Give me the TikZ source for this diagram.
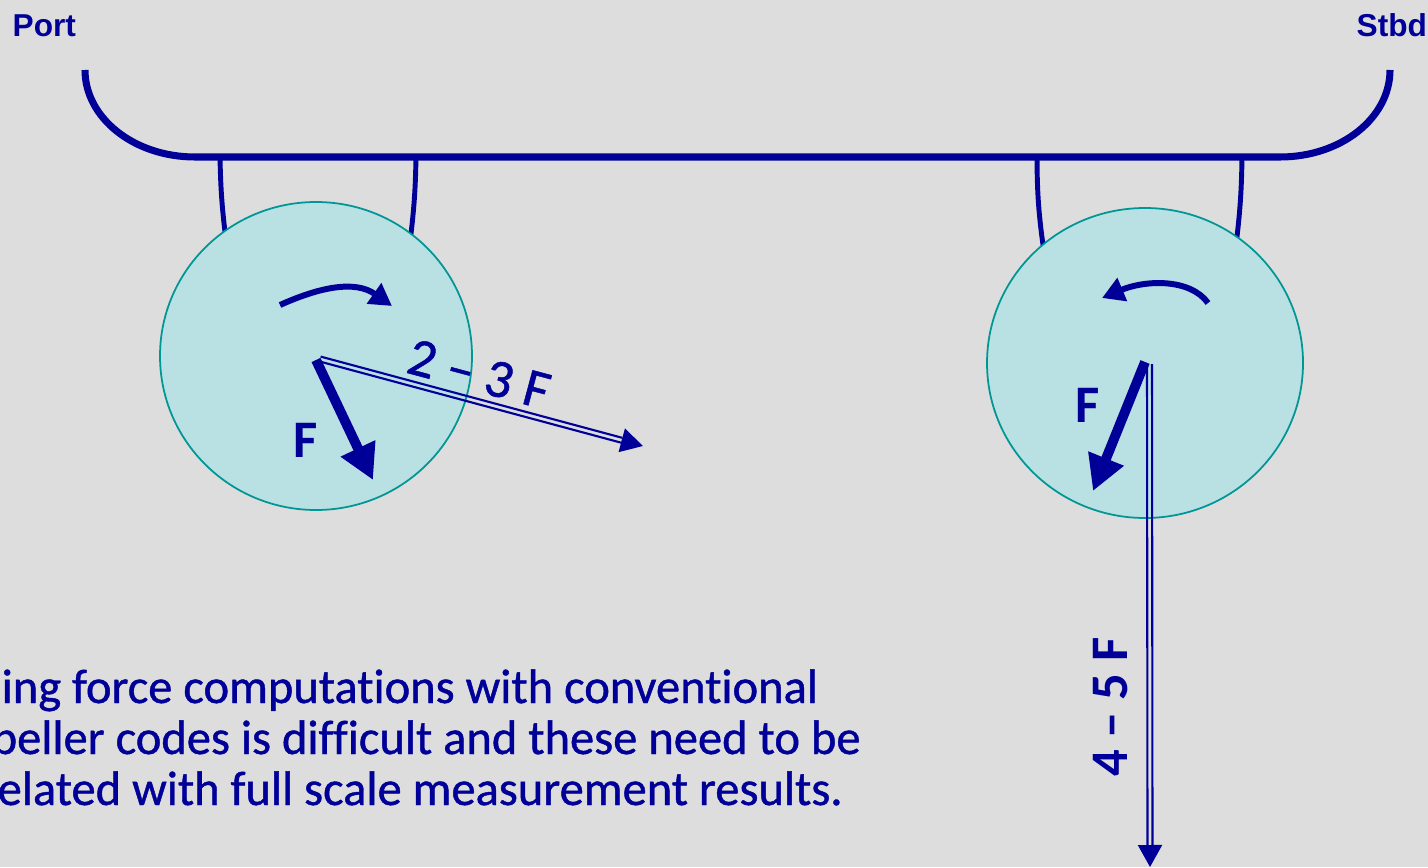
\documentclass[tikz,border=0pt]{standalone}
\usepackage{fontspec}
\setmainfont{Carlito}[Ligatures=CommonOff]
\newfontfamily\notefont{Carlito}[Ligatures=CommonOff, FakeBold=0.9]
\newfontfamily\sidefont{Liberation Sans}
\usetikzlibrary{arrows.meta,calc}

\definecolor{navy}{RGB}{0,0,153}
\definecolor{bggray}{RGB}{221,221,221}
\definecolor{propfill}{RGB}{185,224,227}
\definecolor{propedge}{RGB}{0,150,150}

\tikzset{
  hull/.style={navy, line width=2pt},
  strut/.style={navy, line width=1.4pt},
  prop/.style={fill=propfill, draw=propedge, line width=0.5pt},
  spin/.style={navy, line width=1.7pt, -{Triangle[length=0.22cm,width=0.24cm]}},
  force/.style={navy, line width=2.8pt, -{Triangle[length=0.35cm,width=0.36cm]}},
  rail/.style={navy, line width=0.6pt},
  railtip/.style={navy, line width=0.6pt, -{Triangle[length=0.22cm,width=0.24cm]}},
  flabel/.style={navy, font=\fontsize{15}{15}\selectfont\bfseries},
  rlabel/.style={navy, font=\notefont\fontsize{15.5}{15.5}\selectfont},
  side/.style={navy, font=\sidefont\fontsize{9}{9}\selectfont\bfseries, anchor=base west, inner sep=0pt},
  note/.style={navy, font=\notefont\fontsize{13.8}{13.8}\selectfont, anchor=base west, inner sep=0pt},
}

\begin{document}
\begin{tikzpicture}[x=0.01cm, y=-0.01cm]
  \fill[bggray] (0,0) rectangle (1428,867);
  \useasboundingbox (0,0) rectangle (1428,867);
  \clip (0,0) rectangle (1428,867);

  % hull section
  \draw[hull] (85,70) .. controls (85,118) and (134,157) .. (195,157)
    -- (1280,157) .. controls (1341,157) and (1390,118) .. (1390,70);
  \node[side] (port) at (12,37) {Port};
  \node[side] (stbd) at (1356,37) {Stbd};

  % shaft brackets
  \draw[strut] (220,157) to[bend right=3] (226,240);
  \draw[strut] (416,157) to[bend left=3] (410,242);
  \draw[strut] (1037,157) to[bend right=4] (1044,252);
  \draw[strut] (1242,157) to[bend left=3] (1236,245);

  % propeller discs
  \coordinate (hubL) at (316,360);
  \coordinate (hubR) at (1145,362);
  \draw[prop] (316,356) ellipse [x radius=156, y radius=154];
  \draw[prop] (1145,363) ellipse [x radius=158, y radius=155];

  % rotation
  \draw[spin] (280,305) .. controls (320,287) and (355,280) .. (392,306);
  \draw[spin] (1208,303) .. controls (1190,278) and (1145,280) .. (1102,298);

  % port side forces
  \coordinate (endL) at (373,480);
  \draw[force] (hubL) -- (endL);
  \node[flabel] (fL) at (306,440) {F};
  \coordinate (startL) at (320,359);
  \coordinate (tipL) at (643,446);
  \coordinate (baseL) at ($(tipL)!0.22cm!(startL)$);
  \draw[rail] ($(startL)!0.025cm!90:(baseL)$) -- ($(baseL)!0.025cm!-90:(startL)$);
  \draw[rail] ($(startL)!0.025cm!-90:(baseL)$) -- ($(baseL)!0.025cm!90:(startL)$);
  \draw[railtip] (baseL) -- (tipL);
  \node[rlabel, rotate=-15] (twothree) at (479,374) {2 – 3 F};

  % starboard side forces
  \coordinate (endR) at (1093,491);
  \draw[force] (hubR) -- (endR);
  \node[flabel] (fR) at (1088,405) {F};
  \coordinate (startR) at (1149.5,364);
  \coordinate (tipR) at (1150,867);
  \coordinate (baseR) at ($(tipR)!0.22cm!(startR)$);
  \draw[rail] ($(startR)!0.025cm!90:(baseR)$) -- ($(baseR)!0.025cm!-90:(startR)$);
  \draw[rail] ($(startR)!0.025cm!-90:(baseR)$) -- ($(baseR)!0.025cm!90:(startR)$);
  \draw[railtip] (baseR) -- (tipR);
  \node[flabel, rotate=90] (fourfive) at (1111,707) {4 – 5 F};

  % remark
  \node[note] (line1) at (1,703) {ing force computations with conventional};
  \node[note] (line2) at (-9,754) {peller codes is difficult and these need to be};
  \node[note] (line3) at (-3,805) {elated with full scale measurement results.};
\end{tikzpicture}
\end{document}
